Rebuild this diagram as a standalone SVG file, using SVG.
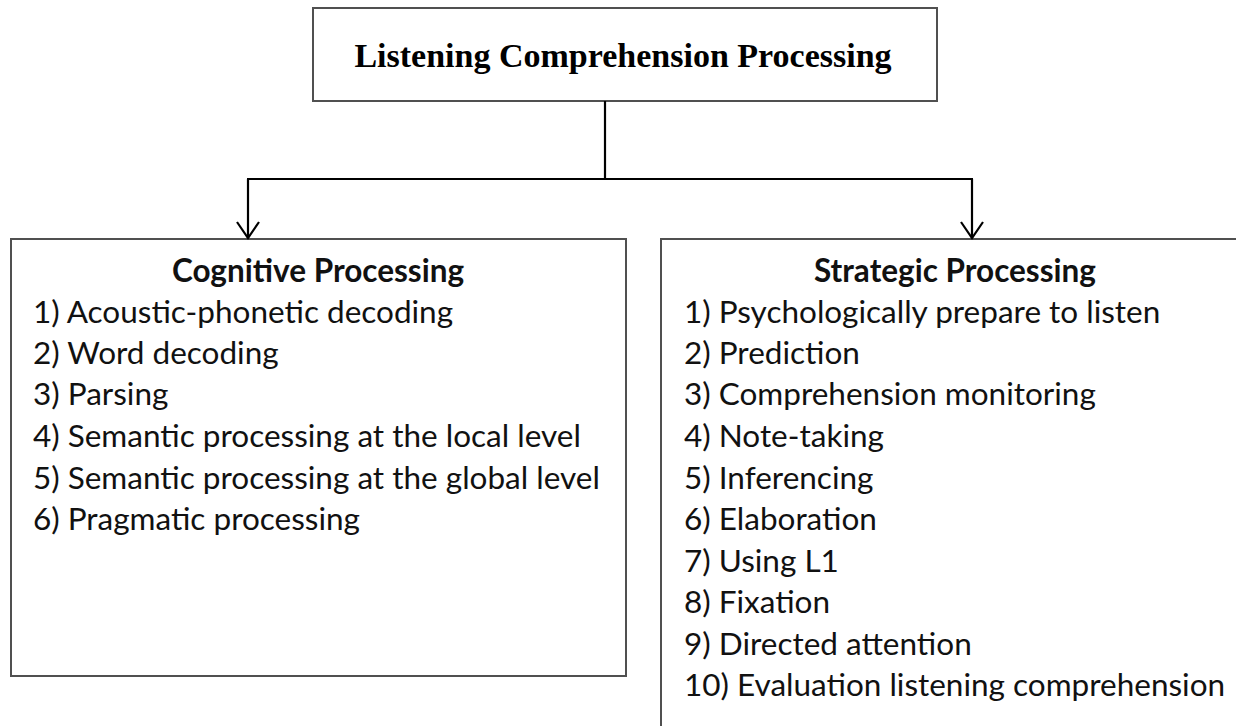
<svg xmlns="http://www.w3.org/2000/svg" width="1236" height="726" viewBox="0 0 1236 726">
  <style>
    .box { fill: #ffffff; stroke: #505050; stroke-width: 2; }
    .conn { fill: none; stroke: #000000; stroke-width: 2.2; }
    .title { font-family: "Liberation Serif", "Times New Roman", serif; font-weight: bold; font-size: 34px; fill: #000; }
    .head { font-family: Lato, "Liberation Sans", sans-serif; font-weight: bold; font-size: 31.5px; fill: #111; }
    .item { font-family: Lato, "Liberation Sans", sans-serif; font-size: 31.5px; fill: #111; }
  </style>
  <defs>
    <marker id="vee" viewBox="-18 -12 20 24" refX="0" refY="0" markerWidth="20" markerHeight="24" markerUnits="userSpaceOnUse" orient="auto">
      <path d="M-16,-11 L0,0 L-16,11" fill="none" stroke="#000" stroke-width="2.2"/>
    </marker>
  </defs>
  <rect width="1236" height="726" fill="#ffffff"/>

  <g id="node-root">
    <rect class="box" x="313" y="8" width="624" height="93"/>
    <text class="title" x="623" y="67" text-anchor="middle">Listening Comprehension Processing</text>
  </g>

  <g id="node-cognitive">
    <rect class="box" x="11" y="239" width="615" height="437"/>
    <text class="head" x="318" y="282" text-anchor="middle">Cognitive Processing</text>
    <text class="item" x="33" y="323">1) Acoustic-phonetic decoding</text>
    <text class="item" x="33" y="364">2) Word decoding</text>
    <text class="item" x="33" y="405">3) Parsing</text>
    <text class="item" x="33" y="447">4) Semantic processing at the local level</text>
    <text class="item" x="33" y="489">5) Semantic processing at the global level</text>
    <text class="item" x="33" y="530">6) Pragmatic processing</text>
  </g>

  <g id="node-strategic">
    <path class="box" d="M1240,239 L661,239 L661,730" fill="none"/>
    <text class="head" x="955" y="282" text-anchor="middle">Strategic Processing</text>
    <text class="item" x="684" y="323">1) Psychologically prepare to listen</text>
    <text class="item" x="684" y="364">2) Prediction</text>
    <text class="item" x="684" y="405">3) Comprehension monitoring</text>
    <text class="item" x="684" y="447">4) Note-taking</text>
    <text class="item" x="684" y="489">5) Inferencing</text>
    <text class="item" x="684" y="530">6) Elaboration</text>
    <text class="item" x="684" y="572">7) Using L1</text>
    <text class="item" x="684" y="613">8) Fixation</text>
    <text class="item" x="684" y="655">9) Directed attention</text>
    <text class="item" x="684" y="696">10) Evaluation listening comprehension</text>
  </g>

  <g id="connectors">
    <line class="conn" x1="605" y1="101" x2="605" y2="179"/>
    <line class="conn" x1="247" y1="179" x2="973" y2="179"/>
    <line class="conn" x1="248" y1="179" x2="248" y2="238" marker-end="url(#vee)"/>
    <line class="conn" x1="972" y1="179" x2="972" y2="238" marker-end="url(#vee)"/>
  </g>
</svg>
